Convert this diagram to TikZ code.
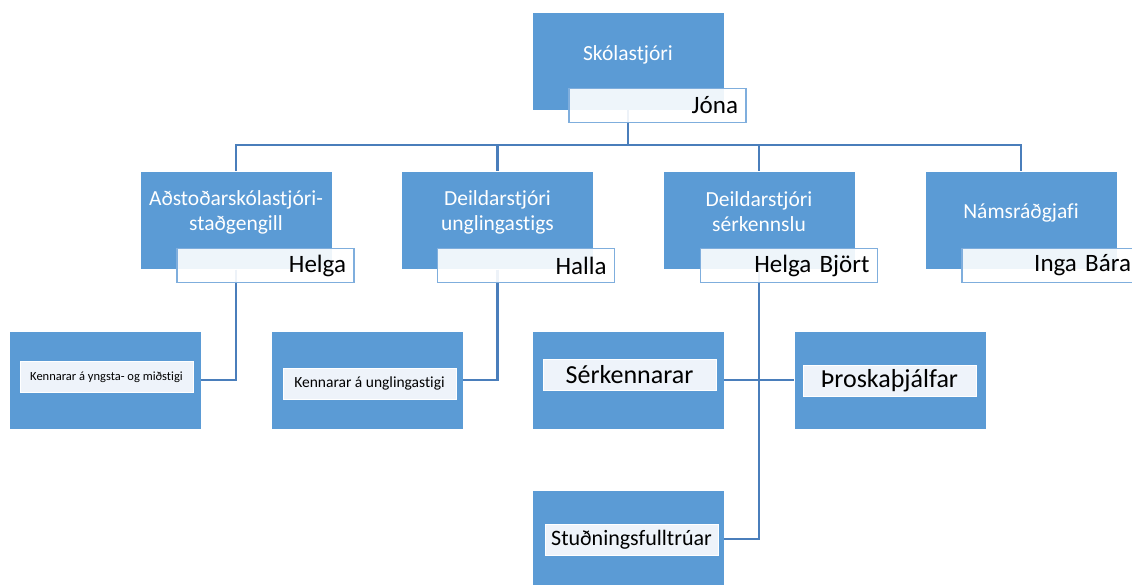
\documentclass[tikz,border=0pt]{standalone}
\usepackage{fontspec}
\setmainfont[Ligatures={NoCommon}]{Carlito}
\definecolor{boxblue}{HTML}{5B9BD5}
\definecolor{linkblue}{HTML}{4A7EBB}
\definecolor{labelfill}{HTML}{EEF3FA}
\definecolor{nameedge}{HTML}{7FAEDD}
\begin{document}
\begin{tikzpicture}[x=1pt,y=-1pt,
 rolebox/.style={fill=boxblue, draw=white, line width=0.8pt, minimum width=192pt, minimum height=98pt, inner sep=0pt},
 titletext/.style={text=white, font=\fontsize{21.5}{25}\selectfont, align=center, inner sep=0pt},
 namebox/.style={draw=nameedge, line width=1.5pt, fill=white, fill opacity=0.9, text opacity=1, minimum height=34pt, inner xsep=8pt, inner ysep=0pt, text width=161pt, align=right, font=\fontsize{25}{30}\selectfont},
 labelbox/.style={fill=labelfill, draw=white, line width=0.8pt, minimum width=173pt, minimum height=31pt, inner sep=0pt},
 link/.style={draw=linkblue, line width=2.5pt}]
\useasboundingbox (0,0) rectangle (1132,584);
\clip (0,0) rectangle (1132,584);

% role boxes
\node[rolebox] (top) at (628,61) {};
\node[rolebox] (b1) at (236,220.5) {};
\node[rolebox] (b2) at (497.5,220.5) {};
\node[rolebox] (b3) at (759,220.5) {};
\node[rolebox] (b4) at (1021,220.5) {};
\node[rolebox] (A) at (105,380) {};
\node[rolebox] (B) at (367,380) {};
\node[rolebox] (C) at (628,380) {};
\node[rolebox] (D) at (890,380) {};
\node[rolebox] (E) at (628,539) {};

% connectors
\coordinate (j) at (628,145);
\draw[link] (top.south) -- (j);
\draw[link] (b1.north) |- (j) -| (b4.north);
\draw[link] (j) -| (b2.north);
\draw[link] (j) -| (b3.north);
\draw[link] (b1.south) |- (A.east);
\draw[link] (b2.south) |- (B.east);
\draw[link] (b3.south) |- (E.east);
\draw[link] (C.east) -- (D.west);

% titles
\node[titletext] (t0) at (628,55) {Skólastjóri};
\node[titletext] (t1) at (236,212) {Aðstoðarskólastjóri-\\staðgengill};
\node[titletext] (t2) at (497.5,212) {Deildarstjóri\\unglingastigs};
\node[titletext] (t3) at (759,212) {Deildarstjóri\\sérkennslu};
\node[titletext] (t4) at (1021,213) {Námsráðgjafi};

% name boxes
\node[namebox] (n0) at (657.5,105.5) {Jóna};
\node[namebox] (n1) at (265.5,265.5) {Helga};
\node[namebox] (n2) at (526,265.5) {Halla};
\node[namebox] (n3) at (789,265.5) {Helga Björt};
\node[namebox] (n4) at (1050.5,265.5) {Inga Bára};

% label boxes
\node[labelbox, font=\fontsize{12.5}{15}\selectfont] (la) at (106.5,377) {Kennarar á yngsta- og miðstigi};
\node[labelbox, font=\fontsize{15.5}{18}\selectfont] (lb) at (369.5,383.5) {Kennarar á unglingastigi};
\node[labelbox, font=\fontsize{26}{30}\selectfont] (lc) at (629.5,374.5) {Sérkennarar};
\node[labelbox, font=\fontsize{26}{30}\selectfont] (ld) at (889.5,381) {Þroskaþjálfar};
\node[labelbox, font=\fontsize{22}{26}\selectfont] (le) at (631.5,540) {Stuðningsfulltrúar};
\end{tikzpicture}
\end{document}
